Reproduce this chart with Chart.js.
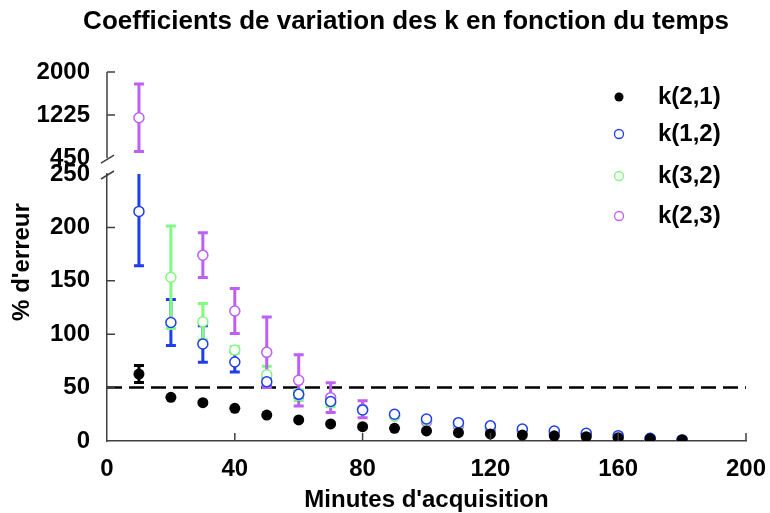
<!DOCTYPE html>
<html>
<head>
<meta charset="utf-8">
<script src="https://cdn.jsdelivr.net/npm/chart.js@4.4.1/dist/chart.umd.min.js"></script>
<style>
    html, body { margin: 0; padding: 0; background: #fff; }
</style>
</head>
<body>
<canvas id="chart" width="770" height="513"></canvas>
<script>
// Values
const minutes = [10, 20, 30, 40, 50, 60, 70, 80, 90, 100, 110, 120, 130, 140, 150, 160, 170, 180];

const k21 = [62.7, 40.9, 35.9, 30.6, 24.3, 19.7, 16, 13.4, 11.9, 9.4, 7.8, 6.6, 5.6, 4.8, 4, 3, 2, 1];
const k21Err = [8, 0, 0, 0, 0, 0, 0, 0, 0, 0, 0, 0, 0, 0, 0, 0, 0, 0];

const k12 = [215, 111, 90.8, 74, 55.5, 43.7, 37, 29, 25, 20.6, 17.2, 14.3, 11.2, 9.4, 7.2, 5, 2.5, 1];
const k12Err = [51, 21.5, 17, 9.5, 4, 3, 0, 0, 0, 0, 0, 0, 0, 0, 0, 0, 0, 0];

const k32 = [null, 153.3, 111.7, 85.2, 62, 43, 36, 29, 23.5, 19.5, 16, 13, 10, 8.5, 6.5, 4.5, 2.5, 1];
const k32Err = [0, 48, 17, 3, 8, 5, 4, 0, 0, 0, 0, 0, 0, 0, 0, 0, 0, 0];

// k(2,3): first point sits on the upper (broken) part of the axis
const k23 = [null, null, 174, 121.7, 83, 56.8, 40.6, 29.7, 23.5, 18, 14, 10.9, 8.7, 6.6, 5.6, 3.4, 2.2, 1];
const k23Err = [0, 0, 21, 21, 33, 24, 14, 8, 0, 0, 0, 0, 0, 0, 0, 0, 0, 0];
const k23High = [1175];
const k23HighErr = [607];

const xTicks = [0, 40, 80, 120, 160, 200];
const yTicksLow = [0, 50, 100, 150, 200, 250];
const yTicksHigh = [450, 1225, 2000];
const threshold = 50;

const BLUE = 'rgb(30, 60, 240)';
const GREEN = 'rgb(128, 250, 128)';
const PURPLE = 'rgb(190, 95, 250)';
const AXIS = '#404040';
const FONT = "'Liberation Sans', Arial, sans-serif";

function pts(values) {
    return values.map((v, i) => ({ x: minutes[i], y: v }));
}

function series(label, values, errors, color, filled, axis) {
    return {
        label: label,
        data: pts(values),
        errors: errors,
        yAxisID: axis || 'y',
        showLine: false,
        pointRadius: filled ? 5.5 : 5,
        pointBorderWidth: filled ? 0 : 1.5,
        pointBackgroundColor: filled ? color : '#fff',
        pointBorderColor: color,
        borderColor: color,
        backgroundColor: color
    };
}

// dashed line + error bars, under the points
const underlay = {
    id: 'underlay',
    beforeDatasetsDraw(chart) {
        const { ctx, chartArea } = chart;
        const y = chart.scales.y;
        const y50 = y.getPixelForValue(threshold);
        ctx.save();
        ctx.strokeStyle = '#000';
        ctx.lineWidth = 2.5;
        ctx.setLineDash([15, 7]);
        ctx.beginPath();
        ctx.moveTo(chartArea.left, y50);
        ctx.lineTo(chartArea.right, y50);
        ctx.stroke();
        ctx.setLineDash([]);

        chart.data.datasets.forEach((ds, i) => {
            if (!ds.errors) return;
            const meta = chart.getDatasetMeta(i);
            const scale = chart.scales[ds.yAxisID];
            ctx.strokeStyle = ds.borderColor;
            ctx.lineWidth = 3;
            ds.data.forEach((p, j) => {
                const e = ds.errors[j];
                if (p.y == null || !e) return;
                const px = meta.data[j].x;
                const hi = p.y + e, lo = p.y - e;
                const top = scale.getPixelForValue(Math.min(hi, scale.max));
                const bot = scale.getPixelForValue(Math.max(lo, scale.min));
                ctx.beginPath();
                ctx.moveTo(px, top);
                ctx.lineTo(px, bot);
                if (hi <= scale.max) { ctx.moveTo(px - 5, top); ctx.lineTo(px + 5, top); }
                if (lo >= scale.min) { ctx.moveTo(px - 5, bot); ctx.lineTo(px + 5, bot); }
                ctx.stroke();
            });
        });
        ctx.restore();
    },
    afterDraw(chart) {
        const { ctx, chartArea } = chart;
        const x = chart.scales.x, y = chart.scales.y, y2 = chart.scales.y2;
        const left = chartArea.left;
        ctx.save();
        ctx.strokeStyle = AXIS;
        ctx.lineWidth = 1.5;

        // upper axis segment, stops at the break
        const p450 = y2.getPixelForValue(450);
        const p250 = y.getPixelForValue(250);
        ctx.beginPath();
        ctx.moveTo(left, y2.getPixelForValue(2000));
        ctx.lineTo(left, p450);
        // break marks
        ctx.moveTo(left - 6, p450 + 5); ctx.lineTo(left + 7, p450 - 3);
        ctx.moveTo(left - 6, p250 + 5); ctx.lineTo(left + 7, p250 - 3);
        // inward ticks
        yTicksLow.slice(1, -1).forEach(v => {
            const py = y.getPixelForValue(v);
            ctx.moveTo(left, py); ctx.lineTo(left + 8, py);
        });
        yTicksHigh.slice(1).forEach(v => {
            const py = y2.getPixelForValue(v);
            ctx.moveTo(left, py); ctx.lineTo(left + 8, py);
        });
        xTicks.slice(1).forEach(v => {
            const px = x.getPixelForValue(v);
            ctx.moveTo(px, chartArea.bottom); ctx.lineTo(px, chartArea.bottom - 8);
        });
        ctx.stroke();

        // titles
        ctx.fillStyle = '#000';
        ctx.textAlign = 'center';
        ctx.textBaseline = 'middle';
        ctx.font = 'bold 26px ' + FONT;
        ctx.fillText('Coefficients de variation des k en fonction du temps', 406, 22);

        ctx.save();
        ctx.translate(22, 262);
        ctx.rotate(-Math.PI / 2);
        ctx.font = 'bold 24px ' + FONT;
        ctx.fillText("% d'erreur", 0, 0);
        ctx.restore();

        // legend
        ctx.textAlign = 'left';
        ctx.font = 'bold 24px ' + FONT;
        const rows = [97, 134, 176, 216];
        chart.data.datasets.slice(0, 4).forEach((ds, i) => {
            const ry = rows[i];
            ctx.beginPath();
            ctx.arc(619, ry, 4.5, 0, Math.PI * 2);
            if (ds.pointBorderWidth === 0) {
                ctx.fillStyle = ds.pointBackgroundColor;
                ctx.fill();
            } else {
                ctx.fillStyle = '#fff';
                ctx.fill();
                ctx.strokeStyle = ds.borderColor;
                ctx.lineWidth = 1.3;
                ctx.stroke();
            }
            ctx.fillStyle = '#000';
            ctx.fillText(ds.label, 658, ry);
        });
        ctx.restore();
    }
};

const tickFont = { family: FONT, size: 24, weight: 'bold' };
const plain = v => String(v);

new Chart(document.getElementById('chart'), {
    type: 'scatter',
    data: {
        datasets: [
            series('k(2,1)', k21, k21Err, '#000', true),
            series('k(1,2)', k12, k12Err, BLUE, false),
            series('k(3,2)', k32, k32Err, GREEN, false),
            series('k(2,3)', k23, k23Err, PURPLE, false),
            series('k(2,3) haut', k23High, k23HighErr, PURPLE, false, 'y2')
        ]
    },
    options: {
        responsive: false,
        animation: false,
        layout: { padding: { top: 72, right: 24, left: 0, bottom: 0 } },
        plugins: {
            legend: { display: false },
            tooltip: { enabled: false },
            title: { display: false }
        },
        scales: {
            x: {
                type: 'linear',
                min: 0,
                max: 200,
                afterFit(scale) {
                    scale.height = 72;
                    scale.paddingLeft = 0;
                    scale.paddingRight = 0;
                },
                afterBuildTicks(scale) { scale.ticks = xTicks.map(v => ({ value: v })); },
                grid: { display: false, drawTicks: false },
                border: { display: true, color: AXIS, width: 1.5 },
                ticks: { font: tickFont, color: '#000', padding: 14, maxRotation: 0, autoSkip: false, callback: plain },
                title: {
                    display: true,
                    text: "Minutes d'acquisition",
                    font: { family: FONT, size: 24, weight: 'bold', lineHeight: 1 },
                    color: '#000',
                    padding: { top: 0, bottom: 1 }
                }
            },
            y: {
                type: 'linear',
                position: 'left',
                stack: 'v',
                stackWeight: 267,
                min: 0,
                max: 250,
                afterFit(scale) { scale.width = 107; },
                afterBuildTicks(scale) { scale.ticks = yTicksLow.map(v => ({ value: v })); },
                grid: { display: false, drawTicks: false },
                border: { display: true, color: AXIS, width: 1.5 },
                ticks: { font: tickFont, color: '#000', padding: 17, autoSkip: false, callback: plain }
            },
            y2: {
                type: 'linear',
                position: 'left',
                stack: 'v',
                stackWeight: 102,
                min: 162,
                max: 2000,
                afterFit(scale) { scale.width = 107; },
                afterBuildTicks(scale) { scale.ticks = yTicksHigh.map(v => ({ value: v })); },
                grid: { display: false, drawTicks: false },
                border: { display: false },
                ticks: { font: tickFont, color: '#000', padding: 17, autoSkip: false, callback: plain }
            }
        }
    },
    plugins: [underlay]
});
</script>
</body>
</html>
